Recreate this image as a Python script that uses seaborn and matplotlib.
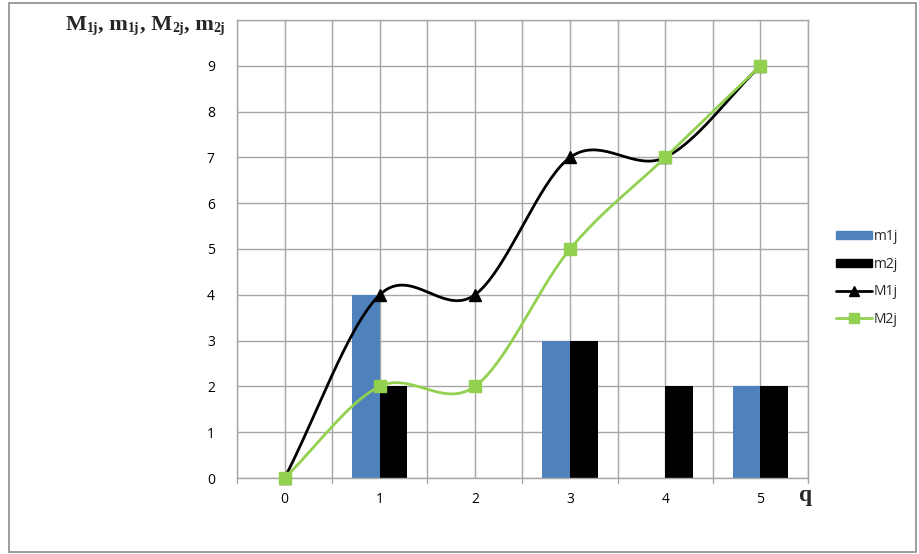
import numpy as np
import pandas as pd
import matplotlib
matplotlib.use("Agg")
import matplotlib.pyplot as plt
from matplotlib.lines import Line2D
from matplotlib.patches import Patch, Rectangle
import seaborn as sns

# Data
q = [0, 1, 2, 3, 4, 5]
m1j = [0, 4, 0, 3, 0, 2]
m2j = [0, 2, 0, 3, 2, 2]
M1j = [0, 4, 4, 7, 7, 9]
M2j = [0, 2, 2, 5, 7, 9]
y_ticks = [0, 1, 2, 3, 4, 5, 6, 7, 8, 9]

BLUE = "#4F81BD"
GREEN = "#92D050"
GRID = "#A6A6A6"

sns.set_theme(style="white")
plt.rcParams["font.family"] = ["Open Sans", "DejaVu Sans"]


def smooth(ys, n=40):
    """Cubic Bezier smoothing through the points (Catmull-Rom style tangents)."""
    ys = np.asarray(ys, dtype=float)
    xs = np.arange(len(ys), dtype=float)
    px, py = [], []
    for i in range(len(ys) - 1):
        y0 = ys[i - 1] if i > 0 else 2 * ys[i] - ys[i + 1]
        y3 = ys[i + 2] if i + 2 < len(ys) else 2 * ys[i + 1] - ys[i]
        c1 = ys[i] + (ys[i + 1] - y0) / 6.0
        c2 = ys[i + 1] - (y3 - ys[i]) / 6.0
        t = np.linspace(0, 1, n)
        b = ((1 - t) ** 3 * ys[i] + 3 * (1 - t) ** 2 * t * c1
             + 3 * (1 - t) * t ** 2 * c2 + t ** 3 * ys[i + 1])
        px.append(xs[i] + t)
        py.append(b)
    return np.concatenate(px), np.concatenate(py)


fig = plt.figure(figsize=(9.2, 5.54), dpi=100)
ax = fig.add_axes([237 / 920, 1 - 478 / 554, (808 - 237) / 920, (478 - 20) / 554])

bars = pd.DataFrame({
    "q": q * 2,
    "value": m1j + m2j,
    "series": ["m1j"] * 6 + ["m2j"] * 6,
})
sns.barplot(data=bars, x="q", y="value", hue="series",
            palette={"m1j": BLUE, "m2j": "black"}, width=0.58,
            dodge=True, saturation=1, legend=False, ax=ax, zorder=2,
            linewidth=0, edgecolor="none")

for ys, col, mk, ms in [(M1j, "black", "^", 8), (M2j, GREEN, "s", 8)]:
    sx, sy = smooth(ys)
    ax.plot(sx, sy, color=col, lw=2.0, zorder=3, solid_capstyle="round")
    ax.plot(np.arange(len(ys)), ys, linestyle="none", marker=mk, ms=ms,
            color=col, zorder=4, clip_on=False)

ax.set_xlim(-0.5, 5.5)
ax.set_ylim(0, 10)
ax.set_yticks(y_ticks)
ax.set_yticklabels([str(v) for v in y_ticks])
ax.set_xticks(q)
ax.set_xticklabels([str(v) for v in q])
ax.set_xlabel("")
ax.set_ylabel("")

# Gridlines: every integer on y, every half category on x
for yv in range(0, 11):
    ax.axhline(yv, color=GRID, lw=1.0, zorder=0)
for xv in np.arange(-0.5, 5.6, 0.5):
    ax.axvline(xv, color=GRID, lw=1.0, zorder=0)

for side in ["top", "right", "left", "bottom"]:
    ax.spines[side].set_color(GRID)
    ax.spines[side].set_linewidth(1.0)

ax.tick_params(axis="y", length=0, pad=16, labelsize=10, labelcolor="#000000")
ax.tick_params(axis="x", length=0, pad=10, labelsize=10, labelcolor="#000000")
# Small downward ticks on category boundaries
for xv in np.arange(-0.5, 5.6, 1.0):
    ax.plot([xv, xv], [0, -0.12], color=GRID, lw=1.0, clip_on=False)

# Axis title with small subscripts, laid out piece by piece
title_parts = [("M", False), ("1j", True), (", m", False), ("1j", True),
               (", M", False), ("2j", True), (", m", False), ("2j", True)]
fig.canvas.draw()
renderer = fig.canvas.get_renderer()
x_px = 66.0
base_px = 554 - 30
for txt, sub in title_parts:
    t = fig.text(x_px / 920, (base_px - (2 if sub else 0)) / 554, txt,
                 fontsize=10 if sub else 16, fontweight="bold",
                 family="Liberation Serif", ha="left", va="baseline")
    x_px += t.get_window_extent(renderer).width

fig.text(806 / 920, 1 - 495 / 554, "q", fontsize=17, fontweight="bold",
         family="Liberation Serif", ha="center", va="center")

handles = [
    Patch(facecolor=BLUE, edgecolor=BLUE, label="m1j"),
    Patch(facecolor="black", edgecolor="black", label="m2j"),
    Line2D([0], [0], color="black", lw=2, marker="^", ms=7, label="M1j"),
    Line2D([0], [0], color=GREEN, lw=2, marker="s", ms=7, label="M2j"),
]
fig.legend(handles=handles, loc="center left",
           bbox_to_anchor=(830 / 920, 1 - 278 / 554), frameon=False,
           fontsize=10, handlelength=2.6, handleheight=0.5,
           handletextpad=0.15, labelspacing=0.9, borderaxespad=0)

# Chart border
fig.add_artist(Rectangle((9 / 920, 1 - 552 / 554), (916 - 9) / 920, (552 - 3) / 554,
                         transform=fig.transFigure, fill=False,
                         edgecolor="#8C8C8C", lw=1.2))

fig.savefig("out.png", dpi=100)
